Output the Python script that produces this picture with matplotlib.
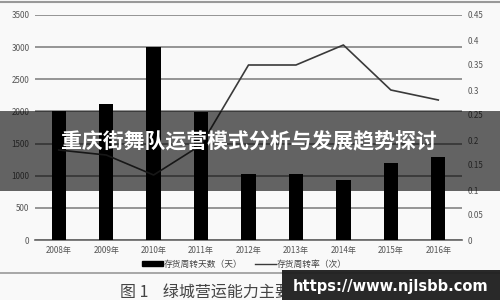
"""
Inventory turnover chart with banner overlay
"""
import matplotlib
matplotlib.use("Agg")
import matplotlib.pyplot as plt
from matplotlib.patches import Rectangle, Patch
from matplotlib.lines import Line2D

plt.rcParams['font.family'] = ['Noto Sans CJK SC', 'DejaVu Sans']

# Data:
years = ['2008年', '2009年', '2010年', '2011年', '2012年', '2013年', '2014年', '2015年', '2016年']
days = [2000, 2110, 3000, 1990, 1020, 1020, 930, 1200, 1290]
rate = [0.18, 0.17, 0.13, 0.19, 0.35, 0.35, 0.39, 0.30, 0.28]
left_ticks = [0, 500, 1000, 1500, 2000, 2500, 3000, 3500]
right_ticks = [0, 0.05, 0.1, 0.15, 0.2, 0.25, 0.3, 0.35, 0.4, 0.45]
right_labels = ['0', '0.05', '0.1', '0.15', '0.2', '0.25', '0.3', '0.35', '0.4', '0.45']

fig = plt.figure(figsize=(5, 3), dpi=100)
fig.patch.set_facecolor('#f9f9f9')
ax = fig.add_axes([0.07, 0.2, 0.854, 0.75])
ax.set_facecolor('#f9f9f9')
x = range(len(years))

ax.bar(x, days, width=0.3, color='black', zorder=3)
ax.set_ylim(0, 3500)
ax.set_xlim(-0.5, len(years) - 0.5)
ax.set_yticks(left_ticks)
ax.set_yticklabels([str(t) for t in left_ticks], fontsize=5.8, color='#555555')
ax.set_xticks(list(x))
ax.set_xticklabels(years, fontsize=5.8, color='#555555')
ax.tick_params(length=0, pad=4)
ax.yaxis.grid(True, color='#7a7a7a', lw=1.1, zorder=0)
ax.set_axisbelow(True)
for s in ['top', 'right', 'left']:
    ax.spines[s].set_visible(False)
ax.spines['bottom'].set_color('#666666')
ax.spines['bottom'].set_linewidth(1.2)

ax2 = ax.twinx()
ax2.plot(x, rate, color='#3a3a3a', lw=1.2, zorder=4)
ax2.set_ylim(0, 0.45)
ax2.set_yticks(right_ticks)
ax2.set_yticklabels(right_labels, fontsize=5.8, color='#555555')
ax2.tick_params(length=0, pad=4)
for s in ['top', 'right', 'left', 'bottom']:
    ax2.spines[s].set_visible(False)

handles = [Patch(facecolor='black', edgecolor='black'),
           Line2D([0], [0], color='#3a3a3a', lw=1)]
fig.legend(handles, ['存货周转天数（天）', '存货周转率（次）'],
           loc='center', bbox_to_anchor=(0.488, 0.12), ncol=2, frameon=False,
           fontsize=6.3, handlelength=2.4, handleheight=0.5, columnspacing=1.4,
           handletextpad=0.1, labelcolor='#444444')

# frame of the scanned figure
fig.add_artist(Line2D([0, 1], [0.995, 0.995], color='#999999', lw=1.5))
fig.add_artist(Line2D([0, 1], [0.09, 0.09], color='#999999', lw=1.2))

caption = fig.text(0.24, 0.027, '图 1    绿城营运能力主要指标分析', fontsize=11.5,
                   color='#444444', va='center', ha='left')
caption.set_clip_box(Rectangle((0, 0), 282, 300).get_bbox())
caption.set_clip_on(True)

# banner overlay
fig.add_artist(Rectangle((0, 0.363), 1, 0.267, transform=fig.transFigure,
                         facecolor='black', alpha=0.6, zorder=10))
fig.text(0.497, 0.527, '重庆街舞队运营模式分析与发展趋势探讨', fontsize=15,
         color='white', fontweight='bold', ha='center', va='center', zorder=11)

# watermark
fig.add_artist(Rectangle((0.564, 0), 0.436, 0.1, transform=fig.transFigure,
                         facecolor='#1e1e1e', alpha=0.95, zorder=10))
fig.text(0.782, 0.045, 'https://www.njlsbb.com', fontsize=10.5, color='white',
         fontweight='bold', ha='center', va='center', zorder=11,
         family='DejaVu Sans')

fig.savefig('out.png', dpi=100, facecolor=fig.get_facecolor())
